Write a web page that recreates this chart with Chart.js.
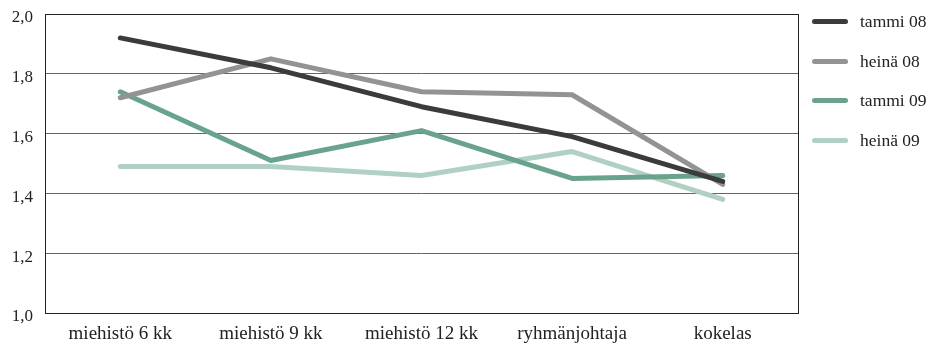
<!DOCTYPE html>
<html>
<head>
<meta charset="utf-8">
<script src="https://cdn.jsdelivr.net/npm/chart.js@4"></script>
<style>
  html, body { margin: 0; padding: 0; background: #fff; }
  #wrap { position: relative; width: 931px; height: 344px; }
  #grafico { display: block; }
  #legend { position: absolute; left: 812px; top: 2px; font-family: "Liberation Serif", serif; font-size: 17.5px; color: #222; }
  .item { display: flex; align-items: center; height: 39.5px; }
  .swatch { width: 36px; height: 5px; border-radius: 3px; margin-right: 12px; }
</style>
</head>
<body>
<div id="wrap">
  <canvas id="grafico"></canvas>
  <div id="legend"></div>
</div>
<script>
// categorias e séries
const categorias = ["miehistö 6 kk", "miehistö 9 kk", "miehistö 12 kk", "ryhmänjohtaja", "kokelas"];
const tammi08 = [1.92, 1.82, 1.69, 1.59, 1.44];
const heina08 = [1.72, 1.85, 1.74, 1.73, 1.43];
const tammi09 = [1.74, 1.51, 1.61, 1.45, 1.46];
const heina09 = [1.49, 1.49, 1.46, 1.54, 1.38];
const nomes = ["tammi 08", "heinä 08", "tammi 09", "heinä 09"];
const cores = ["#3b3b3b", "#939396", "#69a38c", "#b1d0c4"];

document.addEventListener("DOMContentLoaded", function () {
  const canvas = document.getElementById("grafico");
  canvas.width = 931;
  canvas.height = 344;
  const ctx = canvas.getContext("2d");
  const fonte = "'Liberation Serif', serif";

  const series = [tammi08, heina08, tammi09, heina09];

  // moldura da área do gráfico
  const moldura = {
    id: "moldura",
    afterDraw(chart) {
      const a = chart.chartArea;
      const c = chart.ctx;
      c.save();
      c.strokeStyle = "#222";
      c.lineWidth = 1;
      c.strokeRect(Math.round(a.left) + 0.5, Math.round(a.top) + 0.5, Math.round(a.right - a.left), Math.round(a.bottom - a.top));
      c.restore();
    }
  };

  new Chart(ctx, {
    type: "line",
    data: {
      labels: categorias,
      datasets: series.map((s, i) => ({
        label: nomes[i],
        data: s,
        borderColor: cores[i],
        backgroundColor: cores[i],
        borderWidth: 5,
        pointRadius: 0,
        tension: 0,
        borderCapStyle: "round",
        borderJoinStyle: "round",
        fill: false
      }))
    },
    options: {
      responsive: false,
      animation: false,
      layout: { padding: { top: 14, right: 133, left: 0, bottom: 0 } },
      plugins: {
        legend: { display: false },
        tooltip: { enabled: false }
      },
      scales: {
        x: {
          offset: true,
          afterFit: function (scale) { scale.height = 31; scale.paddingLeft = 0; scale.paddingRight = 0; },
          grid: { display: false, drawTicks: false },
          border: { display: false },
          ticks: { color: "#222", font: { family: fonte, size: 19 }, padding: 10, maxRotation: 0, autoSkip: false }
        },
        y: {
          min: 1.0,
          max: 2.0,
          afterFit: function (scale) { scale.width = 45; scale.paddingTop = 0; scale.paddingBottom = 0; },
          grid: { color: "#666", drawTicks: false },
          border: { display: false },
          ticks: {
            stepSize: 0.2,
            color: "#222",
            padding: 12,
            labelOffset: 4,
            font: { family: fonte, size: 17 },
            callback: v => v.toFixed(1).replace(".", ",")
          }
        }
      }
    },
    plugins: [moldura]
  });

  // legenda em HTML
  const legenda = document.getElementById("legend");
  nomes.forEach((n, i) => {
    const item = document.createElement("div");
    item.className = "item";
    item.innerHTML = '<span class="swatch" style="background:' + cores[i] + '"></span><span>' + n + '</span>';
    legenda.appendChild(item);
  });
});
</script>
</body>
</html>
